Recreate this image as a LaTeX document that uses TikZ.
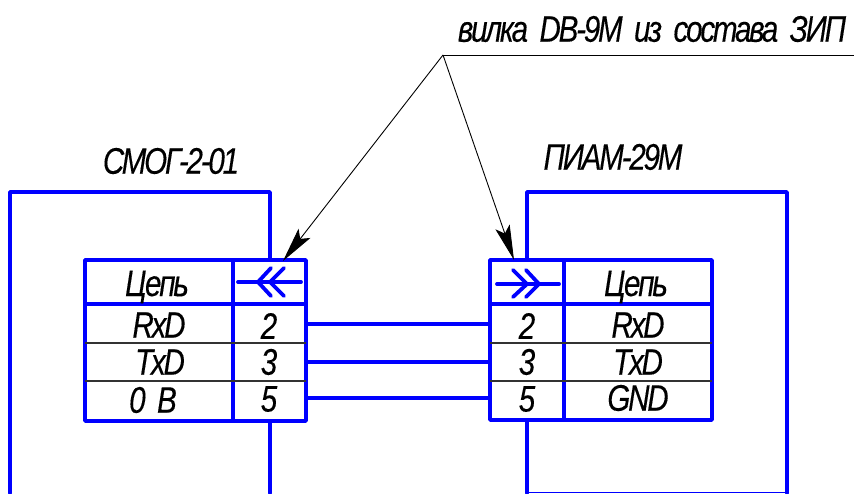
\documentclass[tikz,border=0pt]{standalone}
\usepackage{fontspec}
\setmainfont{Liberation Sans}[FakeStretch=0.8,LetterSpace=-6,WordSpace=1.9,FakeBold=0.2]
\usetikzlibrary{arrows.meta}
\definecolor{wireblue}{RGB}{0,0,255}
\tikzset{
  thick line/.style={draw=wireblue,line width=3.8pt,line cap=round,line join=round},
  row line/.style={draw=black!80,line width=1.1pt},
  leader/.style={draw=black,line width=0.9pt},
  leader tip/.style={leader,-{Stealth[length=35pt,width=15pt,inset=7pt]}},
  lbl/.style={inner sep=0pt,font=\fontsize{37}{37}\selectfont\itshape}
}
\begin{document}
\begin{tikzpicture}[x=1pt,y=-1pt]
      \useasboundingbox (0,0) rectangle (854,493);
      % outer frames
      \draw[thick line] (10,493)--(10,192)--(270,192)--(270,260);
      \draw[thick line] (270,421)--(270,493);
      \draw[thick line] (527,260)--(527,192)--(787,192)--(787,493);
      \draw[thick line] (527,420)--(527,493);
      \draw[draw=wireblue,line width=1.5pt] (527,492.5)--(787,492.5);
      % left table
      \draw[thick line] (85,260) rectangle (306,421);
      \draw[thick line] (85,304)--(306,304);
      \draw[thick line] (233,260)--(233,421);
      \draw[row line] (85,343)--(306,343);
      \draw[row line] (85,381)--(306,381);
      % right table
      \draw[thick line] (490,260) rectangle (712,420);
      \draw[thick line] (490,304)--(712,304);
      \draw[thick line] (564,260)--(564,420);
      \draw[row line] (490,343)--(712,343);
      \draw[row line] (490,381)--(712,381);
      % wires
      \foreach \y/\n in {324/a,362/b,398/c} {
        \coordinate (left\n) at (306,\y);
        \coordinate (right\n) at (490,\y);
        \draw[thick line] (left\n)--(right\n);
      }
      % connector signs
      \draw[thick line] (238,282)--(301,282);
      \draw[thick line] (271,268)--(258,282)--(271,296);
      \draw[thick line] (284,268)--(270,282)--(284,296);
      \draw[thick line] (497,284)--(559,284);
      \draw[thick line] (513,270)--(527,284)--(513,297);
      \draw[thick line] (526,270)--(539,284)--(526,297);
      % leader
      \coordinate (leadstart) at (443,55);
      \coordinate (leadend) at (854,55);
      \coordinate (plugleft) at (283,261);
      \coordinate (plugright) at (514,260);
      \draw[leader] (leadstart)--(leadend);
      \draw[leader tip] (leadstart)--(plugleft);
      \draw[leader tip] (leadstart)--(plugright);
      % labels
      \node[lbl] (plug) at (652,29) {вилка DB-9M из состава ЗИП};
      \node[lbl] (smog) at (171,161) {СМОГ-2-01};
      \node[lbl] (piam) at (613,157) {ПИАМ-29М};
      \node[lbl] (chainl) at (157,287) {Цепь};
      \node[lbl] (chainr) at (636,287) {Цепь};
      \foreach \y/\x/\a/\n in {325/159/RxD/a,362/160/TxD/b,400/153/0 B/c} {
        \node[lbl] (namel\n) at (\x,\y) {\a};
      }
      \foreach \y/\b/\n in {325/RxD/a,362/TxD/b,398/GND/c} {
        \node[lbl] (namer\n) at (638,\y) {\b};
      }
      \foreach \y/\p/\n in {326/2/a,362/3/b,399/5/c} {
        \node[lbl] (pinl\n) at (269,\y) {\p};
        \node[lbl] (pinr\n) at (527,\y) {\p};
      }
    \end{tikzpicture}
\end{document}
